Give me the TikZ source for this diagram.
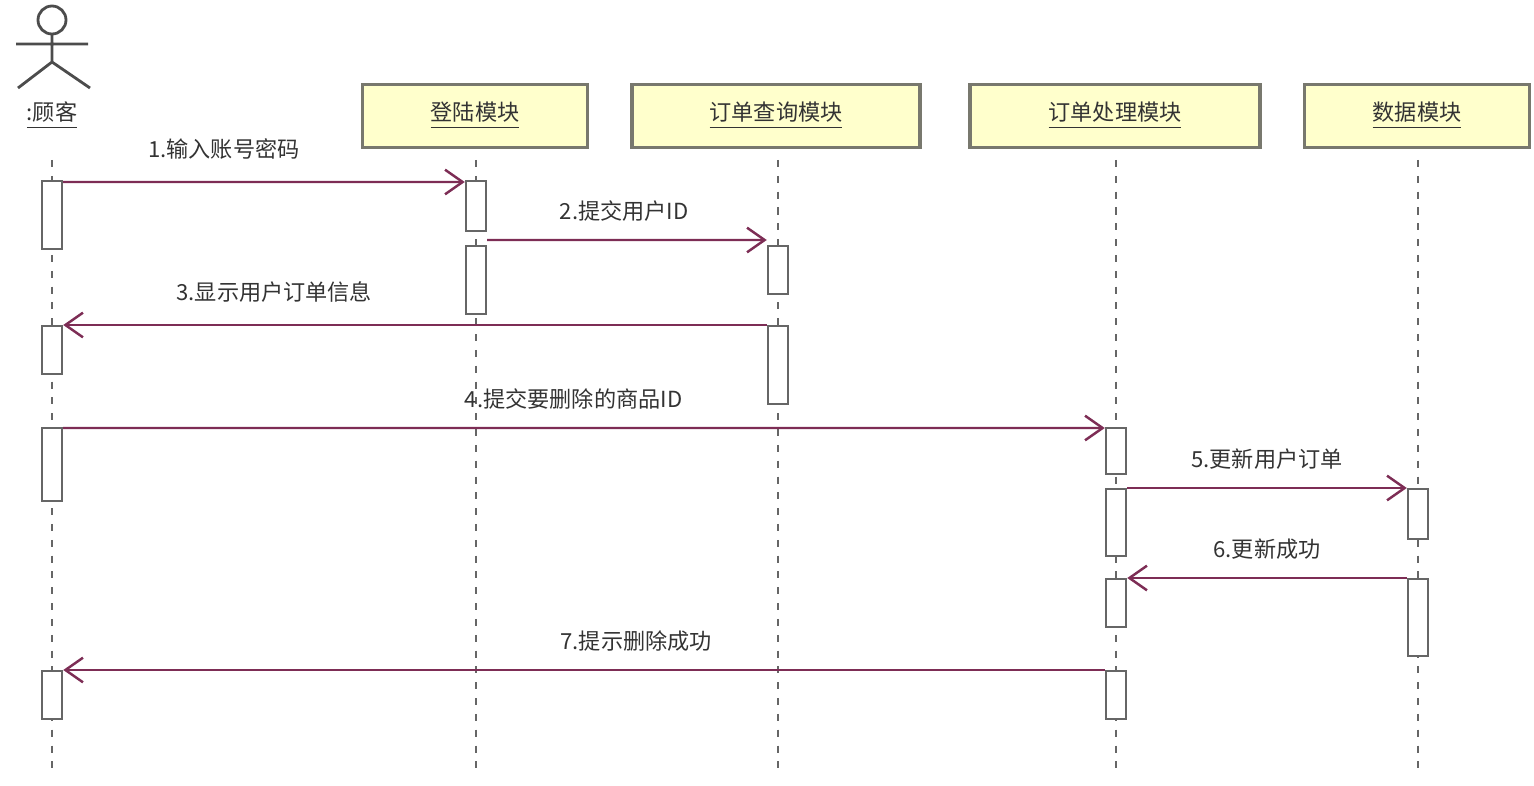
\documentclass[tikz,border=0pt]{standalone}
\usepackage{fontspec}
\setmainfont{Noto Sans CJK SC}
\usetikzlibrary{arrows.meta}
\definecolor{boxfill}{RGB}{255,255,204}
\definecolor{boxline}{RGB}{120,120,110}
\definecolor{msg}{RGB}{125,45,85}
\begin{document}
\begin{tikzpicture}[x=0.01cm,y=-0.01cm,
  objbox/.style={draw=boxline,fill=boxfill,line width=1pt,minimum height=0.63cm,font=\fontsize{6.3}{7}\selectfont,text=black!80,inner sep=0pt},
  life/.style={dash pattern=on 2pt off 2.5pt,draw=black!60,line width=0.7pt},
  act/.style={draw=black!60,fill=white,line width=0.7pt,minimum width=0.2cm,inner sep=0pt},
  msgarrow/.style={draw=msg,line width=0.7pt,-{Straight Barb[length=5pt,width=7pt]}},
  lbl/.style={font=\fontsize{6.3}{7}\selectfont,text=black!80,inner sep=1pt}]
\useasboundingbox (0,0) rectangle (1534,785);
% actor
\draw[black!70,line width=0.8pt] (52,20) circle (14);
\draw[black!70,line width=0.8pt] (52,34) -- (52,62) (16,44) -- (88,44) (52,62) -- (18,88) (52,62) -- (90,88);
\node[lbl] (actor) at (52,116) {\underline{:顾客}};
% boxes
\node[objbox,minimum width=2.25cm] (login) at (475,116) {\underline{登陆模块}};
\node[objbox,minimum width=2.88cm] (query) at (776,116) {\underline{订单查询模块}};
\node[objbox,minimum width=2.9cm] (proc) at (1115,116) {\underline{订单处理模块}};
\node[objbox,minimum width=2.25cm] (data) at (1417,116) {\underline{数据模块}};
% lifelines
\foreach \n/\x in {a/52,l/476,q/778,p/1116,d/1418}{
  \coordinate (\n top) at (\x,160); \coordinate (\n bot) at (\x,770);
  \draw[life] (\n top) -- (\n bot);}
% activations
\newcommand{\actbox}[4]{\node[act,minimum height=#4*0.01cm-0.7pt] (#1) at (#2,#3+#4/2) {};}
\actbox{a1}{52}{180}{70}
\actbox{a2}{52}{325}{50}
\actbox{a3}{52}{427}{75}
\actbox{a4}{52}{670}{50}
\actbox{l1}{476}{180}{52}
\actbox{l2}{476}{245}{70}
\actbox{q1}{778}{245}{50}
\actbox{q2}{778}{325}{80}
\actbox{p1}{1116}{427}{48}
\actbox{p2}{1116}{488}{69}
\actbox{p3}{1116}{578}{50}
\actbox{p4}{1116}{670}{50}
\actbox{d1}{1418}{488}{52}
\actbox{d2}{1418}{578}{79}
% messages
\draw[msgarrow] (a1.north east) ++(0,2) -- (l1.north west |- 0,182) node[lbl,pos=0.40,above=5pt] {1.输入账号密码};
\draw[msgarrow] (l2.north east) ++(0,-5) -- (q1.north west |- 0,240) node[lbl,pos=0.49,above=4pt] {2.提交用户ID};
\draw[msgarrow] (q2.north west) -- (a2.north east) node[lbl,pos=0.70,above=5pt] {3.显示用户订单信息};
\draw[msgarrow] (a3.north east) ++(0,1) -- (p1.north west |- 0,428) node[lbl,pos=0.49,above=4pt] {4.提交要删除的商品ID};
\draw[msgarrow] (p2.north east) -- (d1.north west) node[lbl,pos=0.5,above=4pt] {5.更新用户订单};
\draw[msgarrow] (d2.north west) -- (p3.north east) node[lbl,pos=0.5,above=4pt] {6.更新成功};
\draw[msgarrow] (p4.north west) -- (a4.north east) node[lbl,pos=0.45,above=4pt] {7.提示删除成功};
\end{tikzpicture}
\end{document}
